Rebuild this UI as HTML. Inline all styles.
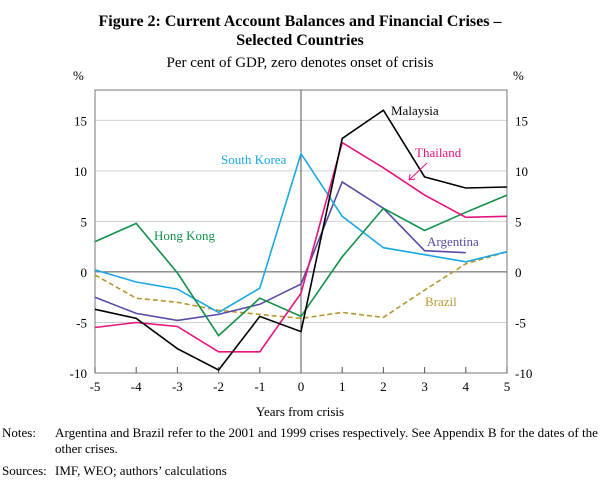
<!DOCTYPE html>
<html><head><meta charset="utf-8"><style>
body{margin:0;background:#fff;}
svg{display:block;font-family:"Liberation Serif",serif;}
</style></head><body>
<svg width="600" height="480" viewBox="0 0 600 480">
<text x="300" y="26" text-anchor="middle" font-weight="bold" font-size="16">Figure 2: Current Account Balances and Financial Crises –</text>
<text x="300" y="45" text-anchor="middle" font-weight="bold" font-size="16">Selected Countries</text>
<text x="300" y="67" text-anchor="middle" font-size="15">Per cent of GDP, zero denotes onset of crisis</text>
<g id="grid"></g>
<g id="axes"></g>
<g id="series"></g>
<g id="labels"></g>
<text x="300" y="416" text-anchor="middle" font-size="13">Years from crisis</text>
<text x="2" y="437" font-size="13">Notes:</text>
<text x="55" y="437" font-size="13" textLength="543" lengthAdjust="spacingAndGlyphs">Argentina and Brazil refer to the 2001 and 1999 crises respectively. See Appendix B for the dates of the</text>
<text x="55" y="453" font-size="13">other crises.</text>
<text x="2" y="475" font-size="13">Sources:</text>
<text x="55" y="475" font-size="13">IMF, WEO; authors’ calculations</text>
</svg>
<script>
const years=[-5,-4,-3,-2,-1,0,1,2,3,4,5];
const yTicks=[-10,-5,0,5,10,15];
const malaysia=[-3.7,-4.6,-7.6,-9.7,-4.4,-5.9,13.2,16.0,9.4,8.3,8.4];
const thailand=[-5.5,-5.0,-5.4,-7.9,-7.9,-2.1,12.8,10.3,7.6,5.4,5.5];
const hongKong=[3.0,4.8,-0.1,-6.3,-2.6,-4.4,1.5,6.3,4.1,5.9,7.6];
const southKorea=[0.2,-1.0,-1.7,-4.0,-1.6,11.7,5.5,2.4,1.7,1.0,2.0];
const argentina=[-2.5,-4.1,-4.8,-4.2,-3.2,-1.2,8.9,6.3,2.1,1.9];
const brazil=[-0.3,-2.6,-3.0,-3.8,-4.2,-4.6,-4.0,-4.5,-1.8,0.8,2.0];
const L=95,R=507,T=90,B=373;
const xs=v=>L+(v+5)/10*(R-L);
const ys=v=>B-(v+10)/28*(B-T);
const NS='http://www.w3.org/2000/svg';
function mk(tag,attrs,parent){const e=document.createElementNS(NS,tag);for(const k in attrs)e.setAttribute(k,attrs[k]);document.getElementById(parent).appendChild(e);return e;}
yTicks.forEach(t=>{
 if(t!==-10&&t!==0){const g=mk('line',{x1:L,x2:R,y1:ys(t),y2:ys(t),stroke:'#d0d0d0','stroke-width':1},'grid');
 
 }
 const a=mk('text',{x:L-8,y:ys(t)+5,'text-anchor':'end','font-size':13},'labels');a.textContent=t;
 
 
 const b=mk('text',{x:R+8,y:ys(t)+5,'font-size':13},'labels');b.textContent=t;
 
 
});
const z=mk('line',{x1:L,x2:R,y1:ys(0),y2:ys(0),stroke:'#555','stroke-width':1},'axes');


const v0=mk('line',{x1:xs(0),x2:xs(0),y1:T,y2:B,stroke:'#555','stroke-width':1},'axes');


const fr=mk('rect',{x:L,y:T,width:R-L,height:B-T,fill:'none',stroke:'#777','stroke-width':1},'axes');


years.forEach(yv=>{
 const tk=mk('line',{x1:xs(yv),x2:xs(yv),y1:B,y2:B-6,stroke:'#555'},'axes');
 
 
 const t=mk('text',{x:xs(yv),y:B+18,'text-anchor':'middle','font-size':13},'labels');t.textContent=yv;
 
 
});
const pc=mk('text',{x:L-22,y:80,'font-size':13},'labels');pc.textContent='%';


const pc2=mk('text',{x:R+6,y:80,'font-size':13},'labels');pc2.textContent='%';


function line(data,color,name,dash){
 const d=data.map((v,i)=>(i?'L':'M')+xs(years[i]).toFixed(1)+','+ys(v).toFixed(1)).join(' ');
 const p=mk('path',{d:d,fill:'none',stroke:color,'stroke-width':1.6},'series');
 if(dash)p.setAttribute('stroke-dasharray','5,3');
 
 
}
line(brazil,'#b89630','series-brazil',true);
line(argentina,'#574ba6','series-argentina');
line(southKorea,'#1aa7e6','series-south-korea');
line(hongKong,'#12904a','series-hong-kong');
line(thailand,'#e5127e','series-thailand');
line(malaysia,'#000','series-malaysia');
function lab(txt,x,y,color,name){const t=mk('text',{x:x,y:y,fill:color,'font-size':13},'labels');t.textContent=txt;
 
 }
lab('Malaysia',391,115,'#000','label-malaysia');
lab('Thailand',415,157,'#e5127e','label-thailand');
lab('South Korea',221,164,'#1aa7e6','label-south-korea');
lab('Hong Kong',154,240,'#12904a','label-hong-kong');
lab('Argentina',427,246,'#574ba6','label-argentina');
lab('Brazil',425,306,'#b89630','label-brazil');
const ar=mk('path',{d:'M427,163 L409,180 M409,180 L415,179 M409,180 L410,174',stroke:'#e5127e',fill:'none','stroke-width':1},'labels');


</script>
</body></html>
